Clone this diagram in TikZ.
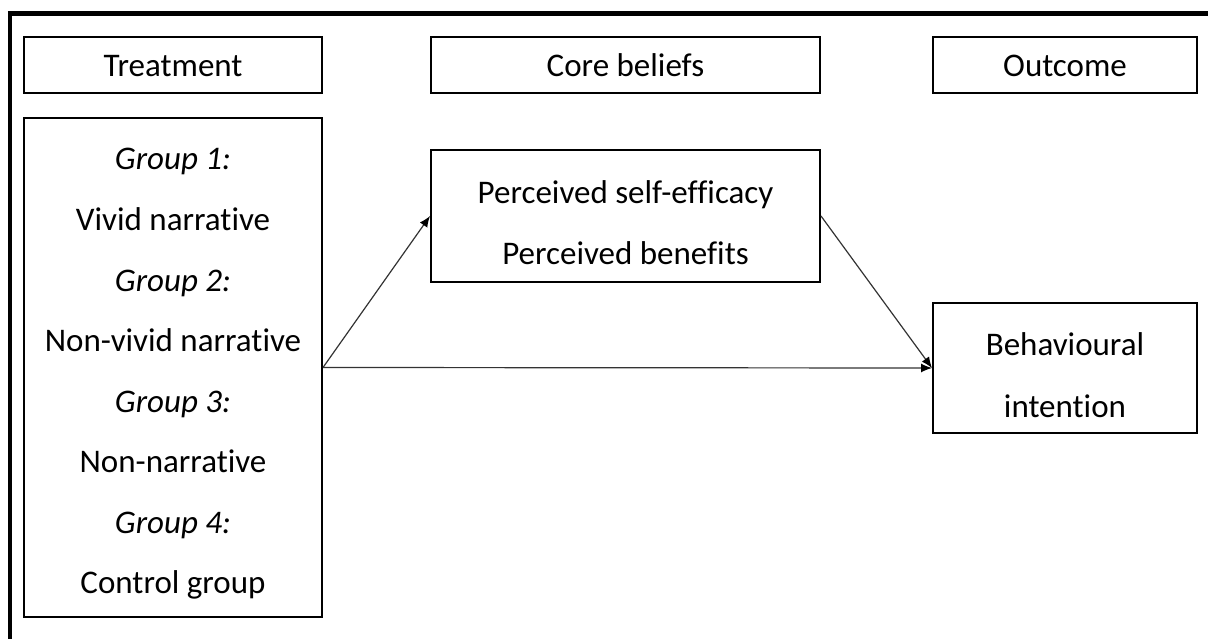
\documentclass[tikz,border=0pt]{standalone}
\usepackage{fontspec}
\setmainfont{Carlito}[Ligatures=NoCommon]
\usetikzlibrary{arrows.meta}
\tikzset{
  box/.style={draw=black, line width=2pt, rectangle, inner sep=0pt, fill=none},
  txt/.style={anchor=base, inner sep=0pt, font=\fontsize{33}{40}\selectfont},
  itxt/.style={txt, font=\fontsize{33}{40}\selectfont\itshape},
  arr/.style={draw=black!80, line width=1.2pt, -{Latex[length=11pt,width=9pt,color=black]}},
  frame/.style={line width=4.5pt, line cap=butt}
}
\begin{document}
\begin{tikzpicture}[x=1pt,y=-1pt]
\useasboundingbox (0,0) rectangle (1208,639);
% outer frame (top and left only)
\coordinate (fa) at (10,639);
\coordinate (fc) at (1208,13.5);
\draw[frame] (fa) -- (10,11.25);
\draw[frame] (7.75,13.5) -- (fc);
% header boxes
\node[box, minimum width=298pt, minimum height=56pt] (treat) at (173,65) {};
\node[box, minimum width=389pt, minimum height=56pt] (core) at (625.5,65) {};
\node[box, minimum width=264pt, minimum height=56pt] (outc) at (1065,65) {};
\node[txt] (treatT) at (173,77) {Treatment};
\node[txt] (coreT) at (625.5,77) {Core beliefs};
\node[txt] (outcT) at (1065,77) {Outcome};
% group box
\node[box, minimum width=298pt, minimum height=499pt] (group) at (173,367.5) {};
\node[itxt] (g1) at (173,170) {Group 1:};
\node[txt] (g1t) at (173,230.5) {Vivid narrative};
\node[itxt] (g2) at (173,291) {Group 2:};
\node[txt] (g2t) at (173,351.5) {Non-vivid narrative};
\node[itxt] (g3) at (173,412) {Group 3:};
\node[txt] (g3t) at (173,472.5) {Non-narrative};
\node[itxt] (g4) at (173,533) {Group 4:};
\node[txt] (g4t) at (173,593.5) {Control group};
% core beliefs box
\node[box, minimum width=389pt, minimum height=132pt] (perc) at (625.5,216) {};
\node[txt] (p1) at (625.5,204) {Perceived self-efficacy};
\node[txt] (p2) at (625.5,265) {Perceived benefits};
% outcome box
\node[box, minimum width=264pt, minimum height=130pt] (beh) at (1065,368) {};
\node[txt] (b1) at (1065,355) {Behavioural};
\node[txt] (b2) at (1065,417) {intention};
% arrows
\draw[arr] (group.east) -- (perc.west);
\draw[arr] (group.east) -- (beh.west);
\draw[arr] (perc.east) -- (beh.west);
\end{tikzpicture}
\end{document}
